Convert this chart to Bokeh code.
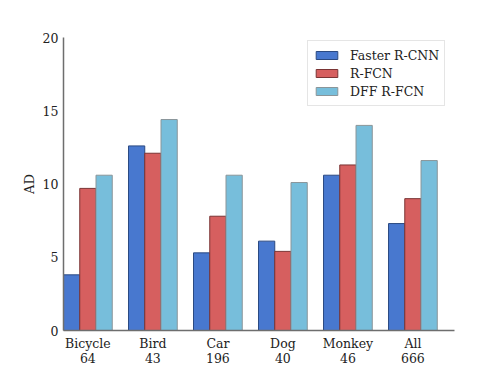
from bokeh.plotting import figure
from bokeh.models import ColumnDataSource, Range1d, Legend, LegendItem, FixedTicker
from bokeh.embed import file_html
from bokeh.resources import INLINE

categories = ["Bicycle", "Bird", "Car", "Dog", "Monkey", "All"]
counts = ["64", "43", "196", "40", "46", "666"]
faster_rcnn = [3.8, 12.6, 5.3, 6.1, 10.6, 7.3]
r_fcn = [9.7, 12.1, 7.8, 5.4, 11.3, 9.0]
dff_r_fcn = [10.6, 14.4, 10.6, 10.1, 14.0, 11.6]
series_names = ["Faster R-CNN", "R-FCN", "DFF R-FCN"]
y_ticks = [0, 5, 10, 15, 20]

FONT = "DejaVu Serif"
fills = ["#4878CF", "#D65F5F", "#77BEDB"]
edges = ["#2b4a82", "#7a3434", "#8a9599"]

W, H = 504, 378
p = figure(width=W, height=H, output_backend="svg", toolbar_location=None,
           x_range=Range1d(-0.375, 5.64), y_range=Range1d(0, 20),
           min_border_left=63, min_border_right=50, min_border_top=37, min_border_bottom=48)
p.outline_line_color = None
p.xgrid.visible = False
p.ygrid.visible = False
p.background_fill_color = "white"
p.border_fill_color = "white"

xs = list(range(len(categories)))
renderers = []
for j, (vals, fc, ec) in enumerate(zip([faster_rcnn, r_fcn, dff_r_fcn], fills, edges)):
    src = ColumnDataSource(dict(x=[i + (j - 1) * 0.25 for i in xs], top=vals))
    r = p.vbar(x="x", top="top", width=0.25, bottom=0, source=src,
               fill_color=fc, line_color=ec, line_width=1)
    renderers.append(r)

# axes
for ax in (p.xaxis[0], p.yaxis[0]):
    ax.axis_line_color = "#6e6e6e"
    ax.axis_line_width = 1.5
    ax.major_tick_line_color = None
    ax.minor_tick_line_color = None
    ax.major_tick_out = 0
    ax.major_tick_in = 0
    ax.minor_tick_out = 0
    ax.minor_tick_in = 0
    ax.major_label_text_font = FONT
    ax.major_label_text_font_size = "12.5px"
    ax.major_label_text_color = "#222222"
    ax.major_label_text_line_height = 1.0

p.xaxis.ticker = FixedTicker(ticks=xs)
p.xaxis.major_label_overrides = {i: f"{c}\n{n}" for i, c, n in zip(xs, categories, counts)}
p.xaxis.major_label_standoff = 5
p.yaxis.ticker = FixedTicker(ticks=y_ticks)
p.yaxis.major_label_standoff = 5
p.yaxis.axis_label = "AD"
p.yaxis.axis_label_text_font = FONT
p.yaxis.axis_label_text_font_style = "normal"
p.yaxis.axis_label_text_font_size = "13px"
p.yaxis.axis_label_text_color = "#222222"
p.yaxis.axis_label_standoff = 3

legend = Legend(items=[LegendItem(label=n, renderers=[r]) for n, r in zip(series_names, renderers)],
                location=(244, 224), orientation="vertical")
legend.label_text_font = FONT
legend.label_text_font_size = "12.5px"
legend.label_text_color = "#222222"
legend.glyph_width = 27
legend.glyph_height = 10
legend.label_height = 18
legend.spacing = 0
legend.padding = 5
legend.margin = 0
legend.label_standoff = 10
legend.border_line_color = "#cccccc"
legend.border_line_width = 1
legend.background_fill_alpha = 1
p.add_layout(legend, "center")

open("out.html", "w").write(file_html(p, INLINE))
